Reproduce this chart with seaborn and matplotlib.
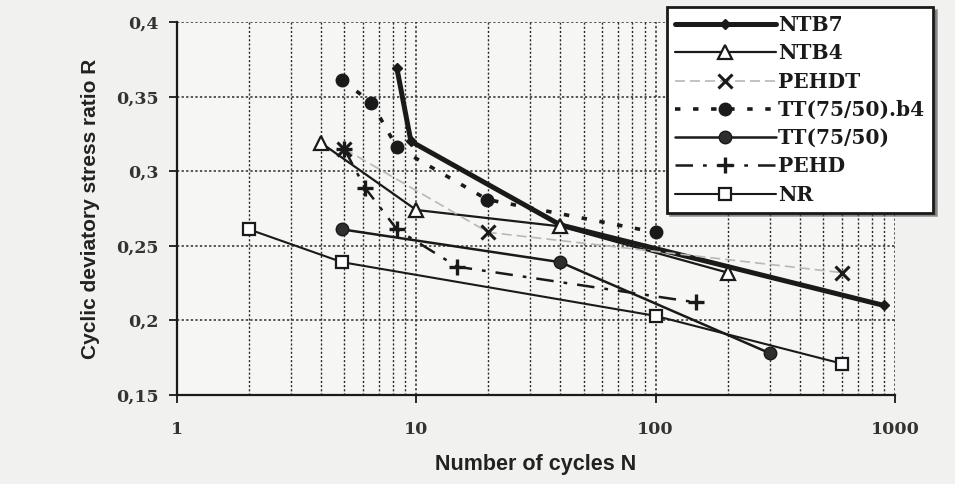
import matplotlib
matplotlib.use("Agg")
import matplotlib.pyplot as plt
import seaborn as sns
import pandas as pd
from matplotlib.ticker import FixedLocator, LogLocator, NullFormatter

# ---- data ----
ntb7_n = [8.3, 9.5, 40, 900]
ntb7_r = [0.369, 0.320, 0.264, 0.210]

ntb4_n = [4, 10, 40, 200]
ntb4_r = [0.319, 0.274, 0.263, 0.232]

pehdt_n = [5, 20, 600]
pehdt_r = [0.315, 0.259, 0.232]

ttb4_n = [4.9, 6.5, 8.3, 19.8, 100]
ttb4_r = [0.361, 0.346, 0.316, 0.281, 0.259]

tt_n = [4.9, 40, 300]
tt_r = [0.261, 0.239, 0.178]

pehd_n = [5, 6.1, 8.3, 14.8, 148]
pehd_r = [0.315, 0.289, 0.261, 0.236, 0.212]

nr_n = [2, 4.9, 100, 600]
nr_r = [0.261, 0.239, 0.203, 0.171]

y_ticks = [0.15, 0.2, 0.25, 0.3, 0.35, 0.4]
y_tick_labels = ["0,15", "0,2", "0,25", "0,3", "0,35", "0,4"]
x_ticks = [1, 10, 100, 1000]
x_tick_labels = ["1", "10", "100", "1000"]

series = [
    ("NTB7", ntb7_n, ntb7_r),
    ("NTB4", ntb4_n, ntb4_r),
    ("PEHDT", pehdt_n, pehdt_r),
    ("TT(75/50).b4", ttb4_n, ttb4_r),
    ("TT(75/50)", tt_n, tt_r),
    ("PEHD", pehd_n, pehd_r),
    ("NR", nr_n, nr_r),
]
frames = []
for name, n, r in series:
    frames.append(pd.DataFrame({"N": n, "R": r, "series": name}))
df = pd.concat(frames, ignore_index=True)

# ---- styles ----
styles = {
    "NTB7": dict(color="#1a1a1a", linewidth=3.6, linestyle="-", marker="D",
                 markersize=5, markerfacecolor="#1a1a1a", markeredgecolor="#1a1a1a",
                 markeredgewidth=1),
    "NTB4": dict(color="#1a1a1a", linewidth=1.6, linestyle="-", marker="^",
                 markersize=10, markerfacecolor="white", markeredgecolor="#1a1a1a",
                 markeredgewidth=1.6),
    "PEHDT": dict(color="#b8b8b8", linewidth=1.2, linestyle=(0, (6, 3)), marker="x",
                  markersize=10, markerfacecolor="#1a1a1a", markeredgecolor="#1a1a1a",
                  markeredgewidth=2.2),
    "TT(75/50).b4": dict(color="#1a1a1a", linewidth=2.6, linestyle=(0, (1.5, 3.5)), marker="o",
                         markersize=9, markerfacecolor="#1a1a1a", markeredgecolor="#1a1a1a",
                         markeredgewidth=1),
    "TT(75/50)": dict(color="#1a1a1a", linewidth=1.8, linestyle="-", marker="o",
                      markersize=9, markerfacecolor="#2e2e2e", markeredgecolor="#1a1a1a",
                      markeredgewidth=1),
    "PEHD": dict(color="#1a1a1a", linewidth=1.8, linestyle=(0, (7, 4, 1.5, 4)), marker="+",
                 markersize=12, markerfacecolor="#1a1a1a", markeredgecolor="#1a1a1a",
                 markeredgewidth=2.4),
    "NR": dict(color="#1a1a1a", linewidth=1.5, linestyle="-", marker="s",
               markersize=9, markerfacecolor="white", markeredgecolor="#1a1a1a",
               markeredgewidth=1.6),
}

sns.set_theme(style="white")
plt.rcParams["font.family"] = ["DejaVu Sans"]

fig = plt.figure(figsize=(9.55, 4.84), dpi=100, facecolor="#f1f1ef")
ax = fig.add_axes([0.1853, 0.184, 0.937 - 0.1853, 0.9545 - 0.184])
ax.set_facecolor("#f6f6f4")

for name, _, _ in series:
    sub = df[df["series"] == name]
    sns.lineplot(data=sub, x="N", y="R", ax=ax, sort=False, estimator=None,
                 label=name, legend=False, **styles[name])

ax.set_xscale("log")
ax.set_xlim(1, 1000)
ax.set_ylim(0.15, 0.4)

ax.xaxis.set_major_locator(FixedLocator(x_ticks))
ax.set_xticklabels(x_tick_labels)
ax.xaxis.set_minor_locator(LogLocator(base=10, subs=range(2, 10)))
ax.xaxis.set_minor_formatter(NullFormatter())
ax.set_yticks(y_ticks)
ax.set_yticklabels(y_tick_labels)

ax.grid(True, which="major", axis="both", color="#2a2a2a", linestyle=(0, (1.5, 1.5)), linewidth=1.1)
ax.grid(True, which="minor", axis="x", color="#2a2a2a", linestyle=(0, (1.5, 1.5)), linewidth=1.0)

for s in ["top", "right"]:
    ax.spines[s].set_visible(False)
for s in ["left", "bottom"]:
    ax.spines[s].set_color("#1a1a1a")
    ax.spines[s].set_linewidth(1.6)

ax.tick_params(axis="both", which="major", direction="out", length=6, width=1.3,
               color="#1a1a1a", labelsize=12.5, left=True, bottom=True)
ax.tick_params(axis="x", which="major", pad=13)
ax.tick_params(axis="y", which="major", pad=7)
ax.tick_params(axis="x", which="minor", length=0)
for lab in ax.get_xticklabels() + ax.get_yticklabels():
    lab.set_family(["DejaVu Serif"])
    lab.set_fontweight("bold")
    lab.set_color("#333333")

ax.set_xlabel("Number of cycles N", fontsize=15.5, fontweight="bold",
              family=["Liberation Sans", "DejaVu Sans"], color="#222222", labelpad=11)
ax.set_ylabel("Cyclic deviatory stress ratio R", fontsize=15, fontweight="bold",
              family=["Liberation Sans", "DejaVu Sans"], color="#222222", labelpad=12)

leg = ax.legend(loc="upper left", bbox_to_anchor=(0.6984, 0.9855),
                bbox_transform=fig.transFigure, frameon=True, fancybox=False,
                shadow=True, framealpha=1, facecolor="white", edgecolor="#1a1a1a",
                handlelength=5.0, handletextpad=0.12, labelspacing=0.41,
                borderpad=0.4, borderaxespad=0,
                prop={"family": ["DejaVu Serif"], "weight": "bold", "size": 14.5})
leg.get_frame().set_linewidth(2.0)
for t in leg.get_texts():
    t.set_color("#1a1a1a")
leg.set_zorder(10)

fig.savefig("out.png", dpi=100, facecolor=fig.get_facecolor())
